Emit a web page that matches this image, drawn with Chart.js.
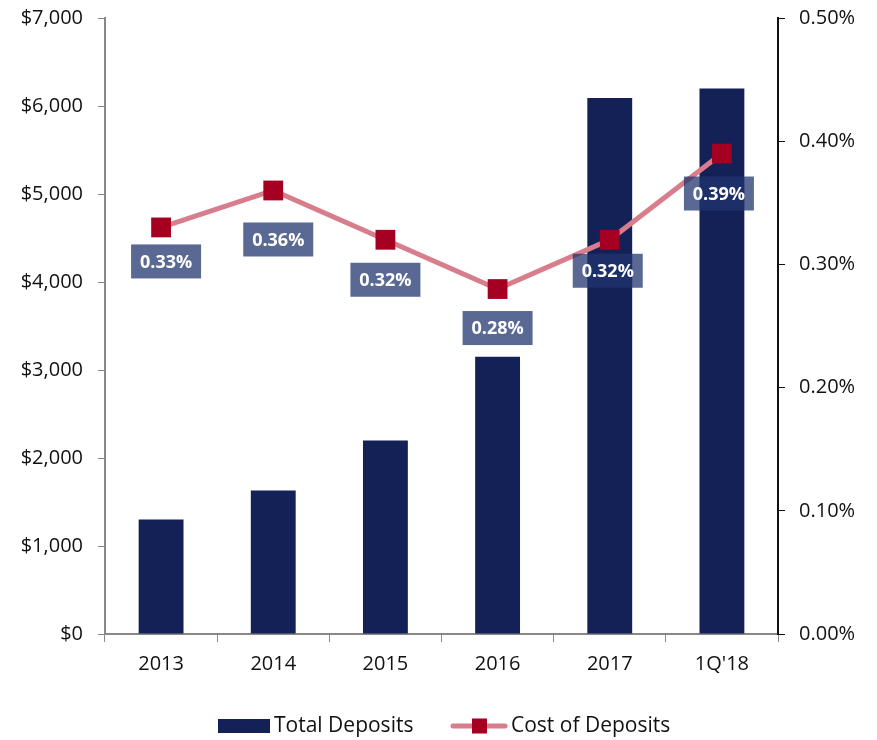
<!DOCTYPE html>
<html>
<head>
<meta charset="utf-8">
<script src="https://cdn.jsdelivr.net/npm/chart.js@4/dist/chart.umd.min.js"></script>
<style>
  html, body { margin: 0; padding: 0; background: #fff; }
  #wrap { width: 877px; height: 740px; position: relative; }
</style>
</head>
<body>
<div id="wrap"><canvas id="depositChart"></canvas></div>
<script>
'use strict';

const categories = ['2013', '2014', '2015', '2016', '2017', "1Q'18"];
const totalDeposits = [1300, 1630, 2200, 3150, 6090, 6200];
const costOfDeposits = [0.33, 0.36, 0.32, 0.28, 0.32, 0.39];
const depositTicks = [0, 1000, 2000, 3000, 4000, 5000, 6000, 7000];
const costTicks = [0, 0.1, 0.2, 0.3, 0.4, 0.5];

const navy = 'rgb(20, 33, 87)';
const markerRed = 'rgb(165, 0, 33)';
const linePink = 'rgb(216, 125, 140)';
const fontFamily = '"Open Sans", "DejaVu Sans", sans-serif';

// value labels sitting in boxes under each point (manually nudged, like the original)
const valueLabelPlugin = {
    id: 'valueLabels',
    afterDatasetsDraw(chart, args, opts) {
        const ctx = chart.ctx;
        const meta = chart.getDatasetMeta(1);
        ctx.save();
        ctx.font = 'bold 18px ' + fontFamily;
        ctx.textAlign = 'center';
        ctx.textBaseline = 'middle';
        meta.data.forEach((pt, i) => {
            const cx = pt.x + opts.dx[i];
            const cy = pt.y + opts.dy[i];
            const w = 70, h = 34;
            ctx.fillStyle = 'rgba(31, 52, 110, 0.74)';
            ctx.fillRect(cx - w / 2, cy - h / 2, w, h);
            ctx.fillStyle = '#fff';
            ctx.fillText(costOfDeposits[i].toFixed(2) + '%', cx, cy + 1);
        });
        ctx.restore();
    }
};

// legend drawn by hand so the line item gets its square marker
const legendPlugin = {
    id: 'customLegend',
    afterDraw(chart) {
        const ctx = chart.ctx;
        const y = 726;
        ctx.save();
        ctx.font = '21px ' + fontFamily;
        ctx.textBaseline = 'middle';
        ctx.textAlign = 'left';

        ctx.fillStyle = navy;
        ctx.fillRect(218, y - 7, 52, 14);
        ctx.fillStyle = '#111';
        ctx.fillText('Total Deposits', 274, y);

        ctx.strokeStyle = linePink;
        ctx.lineWidth = 5;
        ctx.lineCap = 'round';
        ctx.beginPath();
        ctx.moveTo(453, y);
        ctx.lineTo(505, y);
        ctx.stroke();
        ctx.fillStyle = markerRed;
        ctx.fillRect(472, y - 7.5, 15, 15);
        ctx.fillStyle = '#111';
        ctx.fillText('Cost of Deposits', 511, y);
        ctx.restore();
    }
};

function fixSideScale(width) {
    return function(scale) {
        scale.width = width;
        scale.paddingTop = 0;
        scale.paddingBottom = 0;
    };
}

new Chart(document.getElementById('depositChart'), {
    type: 'bar',
    data: {
        labels: categories,
        datasets: [{
            type: 'bar',
            label: 'Total Deposits',
            data: totalDeposits,
            backgroundColor: navy,
            borderWidth: 0,
            barPercentage: 0.4,
            categoryPercentage: 1,
            yAxisID: 'y',
            order: 2
        }, {
            type: 'line',
            label: 'Cost of Deposits',
            data: costOfDeposits,
            borderColor: linePink,
            borderWidth: 5,
            pointStyle: 'rect',
            pointRadius: 14,
            pointBackgroundColor: markerRed,
            pointBorderColor: markerRed,
            pointBorderWidth: 0,
            tension: 0,
            yAxisID: 'y1',
            order: 1
        }]
    },
    options: {
        responsive: true,
        maintainAspectRatio: false,
        animation: false,
        layout: { padding: { top: 18, left: 0, right: 0, bottom: 0 } },
        plugins: {
            legend: { display: false },
            tooltip: { enabled: false },
            valueLabels: {
                dx: [5, 5, 0, 0, -2, -3],
                dy: [34, 49, 40, 39, 31, 40]
            }
        },
        scales: {
            x: {
                offset: true,
                grid: {
                    offset: true,
                    drawOnChartArea: false,
                    drawTicks: true,
                    tickLength: 8,
                    color: '#888'
                },
                border: { color: '#888', width: 2 },
                ticks: {
                    color: '#111',
                    padding: 10,
                    font: { size: 20, family: fontFamily }
                },
                afterFit(scale) {
                    scale.height = 106;
                    scale.paddingLeft = 0;
                    scale.paddingRight = 0;
                }
            },
            y: {
                position: 'left',
                min: 0,
                max: 7000,
                afterBuildTicks(scale) {
                    scale.ticks = depositTicks.map(v => ({ value: v }));
                },
                grid: {
                    drawOnChartArea: false,
                    drawTicks: true,
                    tickLength: 7,
                    color: '#888'
                },
                border: { color: '#888', width: 2 },
                ticks: {
                    color: '#111',
                    padding: 15,
                    font: { size: 20, family: fontFamily },
                    callback: function(value) {
                        return '$' + value.toLocaleString('en-US');
                    }
                },
                afterFit: fixSideScale(105)
            },
            y1: {
                position: 'right',
                min: 0,
                max: 0.5,
                afterBuildTicks(scale) {
                    scale.ticks = costTicks.map(v => ({ value: v }));
                },
                grid: {
                    drawOnChartArea: false,
                    drawTicks: true,
                    tickLength: 7,
                    color: '#111'
                },
                border: { color: '#111', width: 2 },
                ticks: {
                    color: '#111',
                    padding: 14,
                    font: { size: 20, family: fontFamily },
                    callback: function(value) {
                        return value.toFixed(2) + '%';
                    }
                },
                afterFit: fixSideScale(99)
            }
        }
    },
    plugins: [valueLabelPlugin, legendPlugin]
});
</script>
</body>
</html>
